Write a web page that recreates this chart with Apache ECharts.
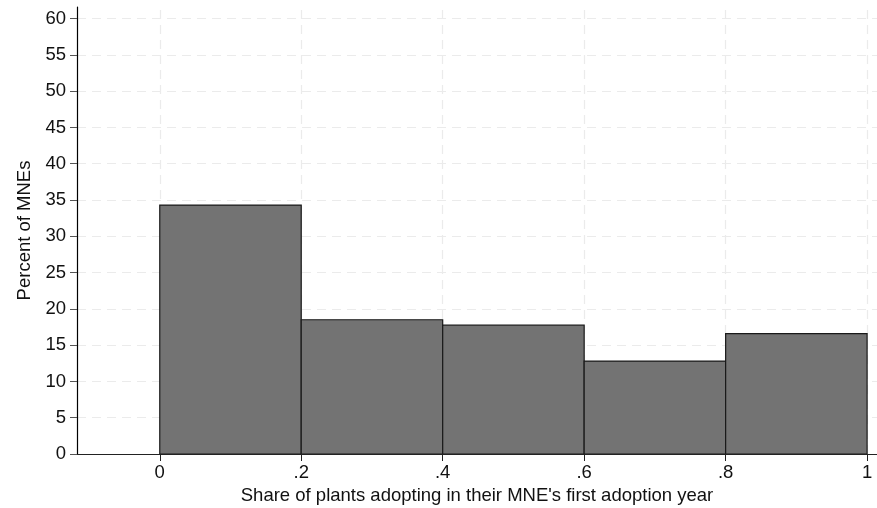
<!DOCTYPE html>
<html><head><meta charset="utf-8">
<script src="https://cdn.jsdelivr.net/npm/echarts@6/dist/echarts.min.js"></script>
<style>html,body{margin:0;padding:0;background:#fff}#c{width:877px;height:508px}</style>
</head><body><div id="c"></div>
<script>
const binStarts = [0, 0.2, 0.4, 0.6, 0.8];
const binEnds = [0.2, 0.4, 0.6, 0.8, 1.0];
const percents = [34.3, 18.5, 17.75, 12.8, 16.6];
const xTicks = [0, 0.2, 0.4, 0.6, 0.8, 1];
const xTickLabels = ['0', '.2', '.4', '.6', '.8', '1'];
const yTicks = [0, 5, 10, 15, 20, 25, 30, 35, 40, 45, 50, 55, 60];

const font = 'Liberation Sans, Arial, Helvetica, sans-serif';
const fs = 18.5;
const chart = echarts.init(document.getElementById('c'));
const gridStyle = {color: '#ebebeb', type: [9, 6], width: 1.2};
const markData = [];
xTicks.forEach(v => markData.push({xAxis: v}));
yTicks.filter(v => v > 0).forEach(v => markData.push({yAxis: v}));

chart.setOption({
  animation: false,
  grid: {left: 77, right: 0, top: 7, bottom: 54, containLabel: false, outerBoundsMode: 'none'},
  xAxis: {
    type: 'value', min: -0.117, max: 1.014, z: 5,
    name: "Share of plants adopting in their MNE's first adoption year",
    nameLocation: 'middle', nameGap: 32,
    nameTextStyle: {fontFamily: font, fontSize: fs, color: '#111'},
    axisLine: {show: true, onZero: false, lineStyle: {color: '#222', width: 1.2}},
    axisTick: {show: true, length: 7, lineStyle: {color: '#222'}, customValues: xTicks},
    axisLabel: {fontFamily: font, fontSize: fs, color: '#111', margin: 9,
      customValues: xTicks,
      formatter: v => { const i = xTicks.findIndex(t => Math.abs(t - v) < 1e-6); return i >= 0 ? xTickLabels[i] : ''; }},
    splitLine: {show: false}
  },
  yAxis: {
    type: 'value', min: 0, max: 61.6, z: 5,
    name: 'Percent of MNEs', nameLocation: 'middle', nameGap: 39,
    nameTextStyle: {fontFamily: font, fontSize: fs, color: '#111'},
    axisLine: {show: true, onZero: false, lineStyle: {color: '#000', width: 1.2}},
    axisTick: {show: true, length: 7, lineStyle: {color: '#555'}, customValues: yTicks},
    axisLabel: {fontFamily: font, fontSize: fs, color: '#111', margin: 11, customValues: yTicks},
    splitLine: {show: false}
  },
  series: [{
    type: 'custom',
    data: binStarts.map((s, i) => [s, binEnds[i], percents[i]]),
    renderItem: (params, api) => {
      const p0 = api.coord([api.value(0), 0]);
      const p1 = api.coord([api.value(1), api.value(2)]);
      return {
        type: 'rect',
        shape: {x: p0[0], y: p1[1], width: p1[0] - p0[0], height: p0[1] - p1[1]},
        style: {fill: '#737373', stroke: '#1a1a1a', lineWidth: 1.2}
      };
    },
    encode: {x: [0, 1], y: 2},
    z: 3,
    markLine: {
      silent: true, symbol: 'none', label: {show: false},
      lineStyle: gridStyle, z: 1,
      data: markData
    }
  }]
});
</script></body></html>
